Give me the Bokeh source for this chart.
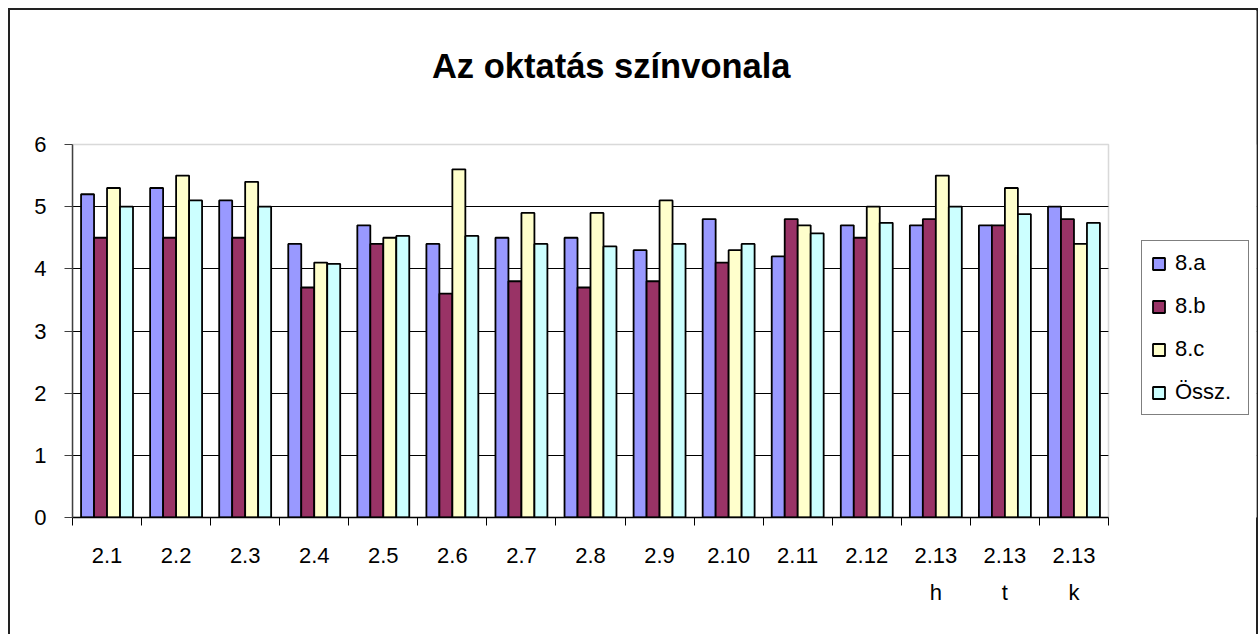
import numpy as np
from bokeh.plotting import figure
from bokeh.models import (ColumnDataSource, LinearAxis, FixedTicker, Legend, LegendItem,
                          Label, Range1d, BoxAnnotation)
from bokeh.transform import dodge
from bokeh.embed import file_html
from bokeh.resources import INLINE

categories = ["2.1", "2.2", "2.3", "2.4", "2.5", "2.6", "2.7", "2.8", "2.9", "2.10",
              "2.11", "2.12", "2.13\nh", "2.13\nt", "2.13\nk"]
series_names = ["8.a", "8.b", "8.c", "Össz."]
v_8a = [5.2, 5.3, 5.1, 4.4, 4.7, 4.4, 4.5, 4.5, 4.3, 4.8, 4.2, 4.7, 4.7, 4.7, 5.0]
v_8b = [4.5, 4.5, 4.5, 3.7, 4.4, 3.6, 3.8, 3.7, 3.8, 4.1, 4.8, 4.5, 4.8, 4.7, 4.8]
v_8c = [5.3, 5.5, 5.4, 4.1, 4.5, 5.6, 4.9, 4.9, 5.1, 4.3, 4.7, 5.0, 5.5, 5.3, 4.4]
v_ossz = [5.0, 5.1, 5.0, 4.08, 4.53, 4.53, 4.4, 4.36, 4.4, 4.4, 4.57, 4.74, 5.0, 4.88, 4.74]
colors = ["#9999FF", "#993366", "#FFFFCC", "#CCFFFF"]
y_ticks = [0, 1, 2, 3, 4, 5, 6]
title_text = "Az oktatás színvonala"

FONT = "Liberation Sans"
n = len(categories)
ymax = 6
centers = [i + 0.5 for i in range(n)]
src = ColumnDataSource(dict(x=centers, a=v_8a, b=v_8b, c=v_8c, o=v_ossz))

# frame covers plot area (1036 x 373 px) plus the legend strip and the title band
x_end = n * (1036 + 148) / 1036
y_end = ymax * (373 + 134) / 373

p = figure(width=1250, height=626, output_backend="svg", toolbar_location=None,
           x_range=Range1d(0, x_end), y_range=Range1d(0, y_end),
           x_axis_location=None,
           min_border_left=64, min_border_right=2, min_border_top=2, min_border_bottom=117,
           outline_line_color=None, border_fill_color=None, background_fill_color="white",
           styles={"box-shadow": "inset 2px 2px 0 #222222, inset -2px 0 0 #222222"})
p.margin = (8, 0, 0, 8)

# hide grid lines in the legend area, then plot-area border
p.add_layout(BoxAnnotation(left=n, right=x_end, bottom=0, top=ymax, fill_color="white",
                           fill_alpha=1, line_color=None, level="underlay"))
p.add_layout(BoxAnnotation(left=0, right=n, bottom=0, top=ymax, fill_color=None,
                           line_color="#808080", line_width=1.5, level="underlay"))

bar_w = 0.188
offsets = [-0.282, -0.094, 0.094, 0.282]
renderers = []
for field, off, col in zip(["a", "b", "c", "o"], offsets, colors):
    r = p.vbar(x=dodge("x", off), top=field, width=bar_w, bottom=0, source=src,
               fill_color=col, line_color="black", line_width=1.8)
    renderers.append(r)

# y axis
ya = p.yaxis[0]
ya.ticker = FixedTicker(ticks=y_ticks)
ya.bounds = (0, ymax)
ya.major_label_text_font = FONT
ya.major_label_text_font_size = "22px"
ya.major_label_text_color = "black"
ya.major_tick_out = 8
ya.major_tick_in = 0
ya.minor_tick_line_color = None
ya.major_label_standoff = 18
ya.axis_line_color = "#404040"
ya.major_tick_line_color = "#404040"
ya.axis_line_width = 1.5

p.ygrid.ticker = FixedTicker(ticks=[1, 2, 3, 4, 5])
p.ygrid.grid_line_color = "black"
p.ygrid.grid_line_width = 1
p.xgrid.grid_line_color = None

line1 = {c: lab.split("\n")[0] for c, lab in zip(centers, categories)}
line2 = {c: (lab.split("\n")[1] if "\n" in lab else "") for c, lab in zip(centers, categories)}

ax1 = LinearAxis(ticker=FixedTicker(ticks=centers, minor_ticks=list(range(n + 1))),
                 major_label_overrides=line1, bounds=(0, n))
ax1.major_tick_out = 0
ax1.major_tick_in = 0
ax1.major_tick_line_color = None
ax1.minor_tick_out = 8
ax1.minor_tick_in = 0
ax1.minor_tick_line_color = "black"
ax1.axis_line_color = "black"
ax1.axis_line_width = 1.5
ax1.major_label_standoff = 22
ax1.major_label_text_font = FONT
ax1.major_label_text_font_size = "22px"
ax1.major_label_text_color = "black"
p.add_layout(ax1, "below")

ax2 = LinearAxis(ticker=FixedTicker(ticks=centers, minor_ticks=[]),
                 major_label_overrides=line2, bounds=(0, n))
ax2.major_tick_out = 0
ax2.major_tick_in = 0
ax2.major_tick_line_color = None
ax2.minor_tick_line_color = None
ax2.axis_line_color = None
ax2.major_label_standoff = 14
ax2.major_label_text_font = FONT
ax2.major_label_text_font_size = "22px"
ax2.major_label_text_color = "black"
p.add_layout(ax2, "below")

title = Label(x=7.8, y=7.26, text=title_text, text_align="center", text_baseline="middle",
              text_font=FONT, text_font_size="34.5px", text_font_style="bold",
              text_color="black")
p.add_layout(title)

items = [LegendItem(label=nm, renderers=[r]) for nm, r in zip(series_names, renderers)]
legend = Legend(items=items, location=(1069, 102), margin=0, padding=9,
                spacing=17, glyph_width=15, glyph_height=15, label_height=24,
                label_width=64, label_standoff=9,
                label_text_font=FONT, label_text_font_size="22px", label_text_color="black",
                border_line_color="black", border_line_width=1,
                background_fill_color="white", background_fill_alpha=1)
p.add_layout(legend, "center")

open("out.html", "w").write(file_html(p, INLINE))
